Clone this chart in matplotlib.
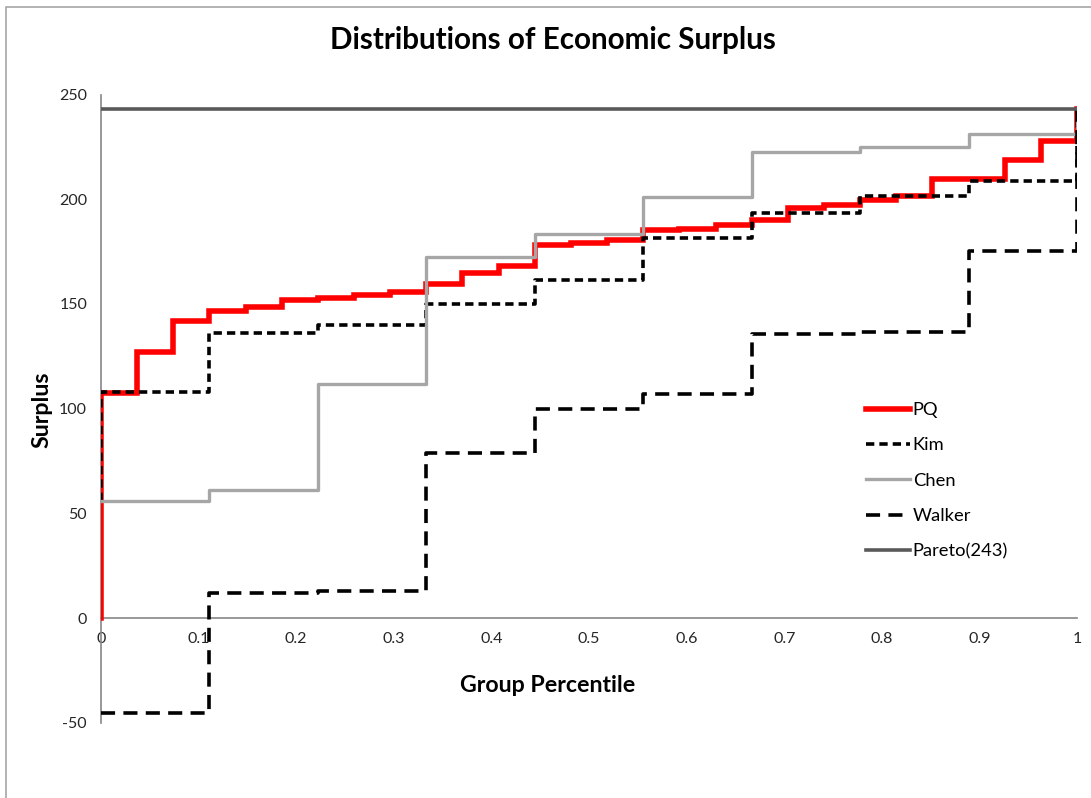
import matplotlib
matplotlib.use('Agg')
import matplotlib.pyplot as plt
import matplotlib.patches as pat
import numpy as np

plt.rcParams['font.family'] = ['Lato', 'DejaVu Sans']
plt.rcParams['axes.unicode_minus'] = False

PQ_COLOR = '#ff0000'
KIM_COLOR = '#000000'
CHEN_COLOR = '#a6a6a6'
WALKER_COLOR = '#000000'
PARETO_COLOR = '#595959'
AXIS_COLOR = '#868686'
TEXT_COLOR = '#262626'

# group percentile grids (27 PQ members, 9 in each of the other groups)
pq_x = np.linspace(0, 1, 28)
grp_x = np.linspace(0, 1, 10)

pq_start = 0
pq_vals = [107.5, 127, 142, 146.5, 148.5, 152, 153, 154.5, 155.5,
           159.5, 165, 168, 178, 179, 180.5, 185.5, 186, 187.5,
           190, 196, 197.5, 199.5, 201.5, 209.5, 209.5, 219, 228]
kim_start = 56
kim_vals = [108, 136, 140, 150, 161.5, 181.5, 193.5, 201.5, 208.5]
chen_vals = [56, 61, 112, 172.5, 183.5, 201, 222.5, 225, 231]
walker_vals = [-45.5, 12, 13, 79, 100, 107, 135.5, 136.5, 175.5]
pareto = 243

tick_x = [0, 0.1, 0.2, 0.3, 0.4, 0.5, 0.6, 0.7, 0.8, 0.9, 1]
tick_x_labels = ['0', '0.1', '0.2', '0.3', '0.4', '0.5', '0.6', '0.7', '0.8', '0.9', '1']
tick_y = [-50, 0, 50, 100, 150, 200, 250]

fig = plt.figure(figsize=(10.91, 7.98), dpi=100)
ax = fig.add_axes([101 / 1091, 1 - 722.7 / 798, 976 / 1091, 628.1 / 798])

# each curve ends by jumping to the Pareto level at percentile 1
ax.step(np.r_[0, pq_x], np.r_[pq_start, pq_vals, pareto], where='post',
        color=PQ_COLOR, lw=4.0, solid_joinstyle='miter', label='PQ', zorder=3)
ax.step(np.r_[0, grp_x], np.r_[kim_start, kim_vals, pareto], where='post',
        color=KIM_COLOR, lw=2.6, ls=(0, (2.3, 1.4)), label='Kim', zorder=4)
ax.step(grp_x, np.r_[chen_vals, pareto], where='post',
        color=CHEN_COLOR, lw=2.4, label='Chen', zorder=5)
ax.step(grp_x, np.r_[walker_vals, pareto], where='post',
        color=WALKER_COLOR, lw=2.6, ls=(0, (3.9, 2.3)), label='Walker', zorder=6)
ax.plot([0, 1], [pareto, pareto], color=PARETO_COLOR, lw=2.6,
        label='Pareto(243)', zorder=7)

ax.set_xlim(0, 1)
ax.set_ylim(-50, 250)
ax.set_xticks(tick_x)
ax.set_xticklabels(tick_x_labels)
ax.set_yticks(tick_y)
ax.tick_params(length=0, labelsize=11.5, labelcolor=TEXT_COLOR)
ax.tick_params(axis='y', pad=10)
ax.tick_params(axis='x', pad=10)

ax.spines['top'].set_visible(False)
ax.spines['right'].set_visible(False)
ax.spines['bottom'].set_position(('data', 0))
for s in ['left', 'bottom']:
    ax.spines[s].set_color(AXIS_COLOR)
    ax.spines[s].set_linewidth(1.2)

fig.text(553 / 1091, 1 - 40 / 798, 'Distributions of Economic Surplus',
         ha='center', va='center', fontsize=21.3, fontweight='bold')
fig.text(548 / 1091, 1 - 685 / 798, 'Group Percentile',
         ha='center', va='center', fontsize=16.7, fontweight='bold')
fig.text(42 / 1091, 1 - 410 / 798, 'Surplus', rotation=90,
         ha='center', va='center', fontsize=16.7, fontweight='bold')

ax.legend(loc='upper left', bbox_to_anchor=(866 / 1091, 1 - 402 / 798),
          bbox_transform=fig.transFigure, frameon=False, fontsize=13.2,
          handlelength=2.4, handletextpad=0.15, labelspacing=1.06,
          borderpad=0, borderaxespad=0)

# chart border, cut off at right and bottom
fig.add_artist(pat.Rectangle((6 / 1091, -0.1), 1.2, 1.1 - 7 / 798,
                             transform=fig.transFigure, fill=False,
                             ec='#a6a6a6', lw=1.2))

fig.savefig('out.png', dpi=100)
